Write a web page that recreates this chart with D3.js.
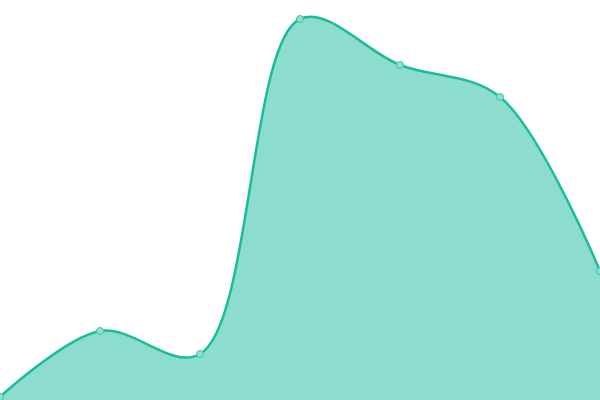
<!DOCTYPE html>
<html lang="en">
<head>
  <meta charset="UTF-8">
  <title>Area</title>
  <script src="https://d3js.org/d3.v7.min.js"></script>
  <style>
    body { margin: 0; background: #fff; }
  </style>
</head>
<body>
  <svg id="chart" width="600" height="400"></svg>
  <script>
const categories = [0, 1, 2, 3, 4, 5, 6];
const values = [3, 69, 46, 381, 335, 303, 129];

const svg = d3.select("#chart");
const width = +svg.attr("width");
const height = +svg.attr("height");

const x = d3.scaleLinear().domain([0, 6]).range([0, width]);
const y = d3.scaleLinear().domain([0, 400]).range([height, 0]);

const data = categories.map((c, i) => ({ c, v: values[i] }));

const curve = d3.curveCatmullRom.alpha(0.5);

const area = d3.area()
  .x(d => x(d.c))
  .y0(height)
  .y1(d => y(d.v))
  .curve(curve);

const line = d3.line()
  .x(d => x(d.c))
  .y(d => y(d.v))
  .curve(curve);

svg.append("path")
  .datum(data)
  .attr("d", area)
  .attr("fill", "#1abc9c")
  .attr("fill-opacity", 0.5);

svg.append("path")
  .datum(data)
  .attr("d", line)
  .attr("fill", "none")
  .attr("stroke", "#1abc9c")
  .attr("stroke-width", 2.5);

svg.selectAll("circle")
  .data(data)
  .enter()
  .append("circle")
  .attr("cx", d => x(d.c))
  .attr("cy", d => y(d.v))
  .attr("r", 3.5)
  .attr("fill", "#8ce0cf")
  .attr("stroke", "#3cc4a8")
  .attr("stroke-width", 1);
  </script>
</body>
</html>
